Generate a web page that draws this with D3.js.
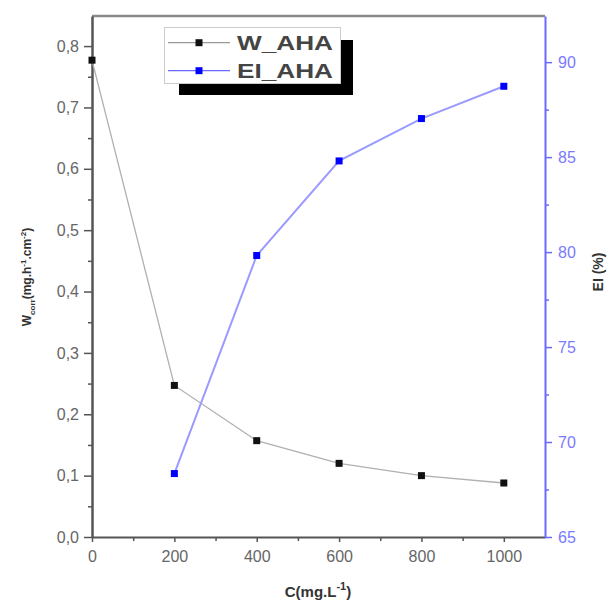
<!DOCTYPE html>
<html><head><meta charset="utf-8">
<script src="https://cdn.jsdelivr.net/npm/d3@7"></script>
<style>body{margin:0;background:#fff}svg{display:block}</style>
</head><body>
<script>
const conc = [0, 200, 400, 600, 800, 1000];
const wAHA = [0.777, 0.247, 0.157, 0.120, 0.100, 0.088];
const eiConc = [200, 400, 600, 800, 1000];
const eiAHA = [68.34, 79.82, 84.80, 87.03, 88.73];
const xTicks = [0, 200, 400, 600, 800, 1000];
const yLeftTicks = [0, 0.1, 0.2, 0.3, 0.4, 0.5, 0.6, 0.7, 0.8];
const yRightTicks = [65, 70, 75, 80, 85, 90];
const legendLabels = ["W_AHA", "EI_AHA"];

const W = 609, H = 601;
const m = {l: 92, r: 545, t: 16, b: 537};
const svg = d3.select("body").append("svg").attr("width", W).attr("height", H)
  .style("font-family", "'Liberation Sans', Arial, sans-serif");

const x = d3.scaleLinear().domain([0, 1100]).range([m.l, m.r]);
const yL = d3.scaleLinear().domain([0, 0.849]).range([m.b, m.t]);
const yR = d3.scaleLinear().domain([65, 92.43]).range([m.b, m.t]);

const gray = "#555";
const blue = "#6a6aff";

// top frame
svg.append("line").attr("x1", m.l).attr("x2", m.r).attr("y1", m.t).attr("y2", m.t)
  .attr("stroke", "#8a8a8a").attr("stroke-width", 2.5);

// minor ticks
const xMinor = d3.range(100, 1100, 200);
const gxm = svg.append("g").attr("transform", `translate(0,${m.b})`)
  .call(d3.axisBottom(x).tickValues(xMinor).tickSize(4).tickFormat(""));
gxm.selectAll("path").remove();
gxm.selectAll("line").attr("stroke", gray).attr("stroke-width", 1.5);

const gx = svg.append("g").attr("transform", `translate(0,${m.b})`)
  .call(d3.axisBottom(x).tickValues(xTicks).tickSize(5).tickSizeOuter(0).tickPadding(9).tickFormat(d3.format("d")));
gx.select("path").attr("stroke", gray).attr("stroke-width", 2);
gx.selectAll("line").attr("stroke", gray).attr("stroke-width", 1.5);
gx.selectAll("text").attr("fill", "#666").style("font-size", "16px");

const yMinorL = d3.range(0.05, 0.85, 0.1);
const gylm = svg.append("g").attr("transform", `translate(${m.l},0)`)
  .call(d3.axisLeft(yL).tickValues(yMinorL).tickSize(4).tickFormat(""));
gylm.selectAll("path").remove();
gylm.selectAll("line").attr("stroke", gray).attr("stroke-width", 1.5);

const gyl = svg.append("g").attr("transform", `translate(${m.l},0)`)
  .call(d3.axisLeft(yL).tickValues(yLeftTicks).tickSize(8).tickSizeOuter(0).tickPadding(5)
    .tickFormat(d => d3.format(".1f")(d).replace(".", ",")));
gyl.select("path").attr("stroke", gray).attr("stroke-width", 2.5);
gyl.selectAll("line").attr("stroke", gray).attr("stroke-width", 1.5);
gyl.selectAll("text").attr("fill", "#666").style("font-size", "16px");

const yMinorR = d3.range(67.5, 92.5, 5);
const gyrm = svg.append("g").attr("transform", `translate(${m.r},0)`)
  .call(d3.axisRight(yR).tickValues(yMinorR).tickSize(4).tickFormat(""));
gyrm.selectAll("path").remove();
gyrm.selectAll("line").attr("stroke", blue).attr("stroke-width", 1.5);

const gyr = svg.append("g").attr("transform", `translate(${m.r},0)`)
  .call(d3.axisRight(yR).tickValues(yRightTicks).tickSize(7).tickSizeOuter(0).tickPadding(6));
gyr.select("path").attr("stroke", blue).attr("stroke-width", 2);
gyr.selectAll("line").attr("stroke", blue).attr("stroke-width", 1.5);
gyr.selectAll("text").attr("fill", "#7a7aff").style("font-size", "16px");

// series
const wData = conc.map((c, i) => [c, wAHA[i]]);
const eData = eiConc.map((c, i) => [c, eiAHA[i]]);
svg.append("path").datum(wData).attr("fill", "none").attr("stroke", "#b0b0b0").attr("stroke-width", 1.3)
  .attr("d", d3.line().x(d => x(d[0])).y(d => yL(d[1])));
svg.append("path").datum(eData).attr("fill", "none").attr("stroke", "#9a9aff").attr("stroke-width", 2)
  .attr("d", d3.line().x(d => x(d[0])).y(d => yR(d[1])));
const s = 7;
svg.selectAll(".wm").data(wData).enter().append("rect")
  .attr("x", d => x(d[0]) - s / 2).attr("y", d => yL(d[1]) - s / 2).attr("width", s).attr("height", s)
  .attr("fill", "#111");
svg.selectAll(".em").data(eData).enter().append("rect")
  .attr("x", d => x(d[0]) - s / 2).attr("y", d => yR(d[1]) - s / 2).attr("width", s).attr("height", s)
  .attr("fill", "#0000ff");

// legend
const lg = svg.append("g");
lg.append("rect").attr("x", 179).attr("y", 40).attr("width", 174).attr("height", 55).attr("fill", "#000");
lg.append("rect").attr("x", 164.5).attr("y", 27.5).attr("width", 176).attr("height", 56)
  .attr("fill", "#fff").attr("stroke", "#ccc").attr("stroke-width", 1);
const legColors = [["#999", "#111"], ["#6a6aff", "#0000ff"]];
const legY = [42.7, 70.7];
legendLabels.forEach((t, i) => {
  lg.append("line").attr("x1", 168).attr("x2", 230).attr("y1", legY[i]).attr("y2", legY[i])
    .attr("stroke", legColors[i][0]).attr("stroke-width", 1.2);
  lg.append("rect").attr("x", 199 - 3.5).attr("y", legY[i] - 3.5).attr("width", 7).attr("height", 7)
    .attr("fill", legColors[i][1]);
  lg.append("text").attr("x", 237).attr("y", legY[i]).attr("dy", "0.36em")
    .attr("textLength", 96).attr("lengthAdjust", "spacingAndGlyphs")
    .style("font-size", "20px").style("font-weight", "bold").attr("fill", "#444").text(t);
});

// axis titles
const xt = svg.append("text").attr("x", 318).attr("y", 597).attr("text-anchor", "middle")
  .style("font-size", "15px").style("font-weight", "bold").attr("fill", "#333");
xt.append("tspan").text("C(mg.L");
xt.append("tspan").attr("dy", -7).style("font-size", "11px").text("-1");
xt.append("tspan").attr("dy", 7).text(")");

const yt = svg.append("text").attr("transform", "translate(31,277) rotate(-90)").attr("text-anchor", "middle")
  .style("font-size", "12px").style("font-weight", "bold").attr("fill", "#333");
yt.append("tspan").text("W");
yt.append("tspan").attr("dy", 4).style("font-size", "8px").text("corr");
yt.append("tspan").attr("dy", -4).text("(mg.h");
yt.append("tspan").attr("dy", -5).style("font-size", "8px").text("-1");
yt.append("tspan").attr("dy", 5).text(".cm");
yt.append("tspan").attr("dy", -5).style("font-size", "8px").text("-2");
yt.append("tspan").attr("dy", 5).text(")");

svg.append("text").attr("transform", "translate(603,272) rotate(-90)").attr("text-anchor", "middle")
  .style("font-size", "14px").style("font-weight", "bold").attr("fill", "#333").text("EI (%)");
</script>
</body></html>
